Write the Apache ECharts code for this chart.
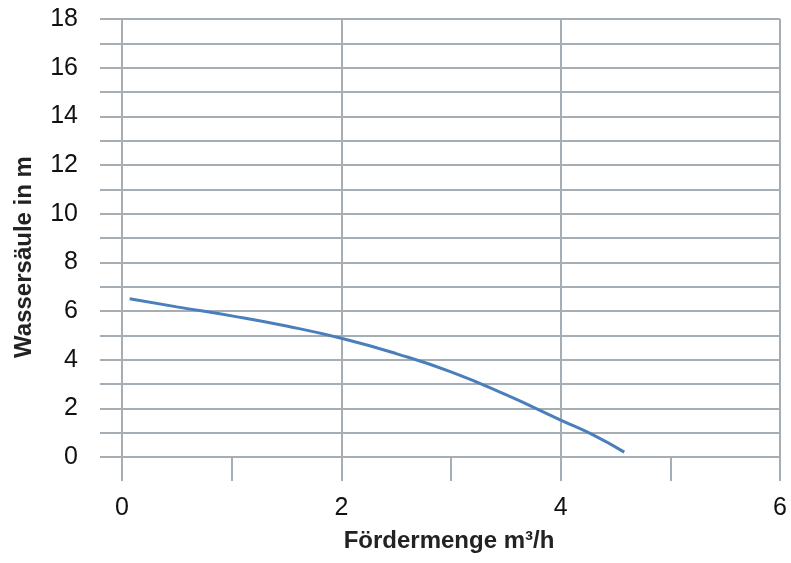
<!DOCTYPE html>
<html>
<head>
<meta charset="utf-8">
<script src="https://cdn.jsdelivr.net/npm/echarts@6/dist/echarts.min.js"></script>
<style>html,body{margin:0;padding:0;background:#fff;}#c{width:791px;height:563px;}</style>
</head>
<body>
<div id="c"></div>
<script>
const flowValues = [0.07, 0.5, 1.0, 1.5, 2.0, 2.5, 3.0, 3.5, 4.0, 4.3, 4.58];
const headValues = [6.5, 6.17, 5.8, 5.38, 4.88, 4.25, 3.5, 2.56, 1.52, 0.9, 0.2];
const xTicks = [0, 2, 4, 6];
const yTicks = [0, 2, 4, 6, 8, 10, 12, 14, 16, 18];

const gridColor = '#a6aeb5';
const font = '"Liberation Sans", Arial, sans-serif';

const chart = echarts.init(document.getElementById('c'));
chart.setOption({
  animation: false,
  grid: { left: 122, right: 11, top: 19, bottom: 106 },
  xAxis: {
    type: 'value', min: xTicks[0], max: xTicks[xTicks.length - 1], interval: 2,
    name: 'Fördermenge m³/h', nameLocation: 'middle', nameGap: 72,
    nameTextStyle: { fontFamily: font, fontWeight: 'bold', fontSize: 24, color: '#222', padding: [0, 4, 0, 0] },
    axisLine: { show: false },
    axisTick: { show: true, length: 24, lineStyle: { color: gridColor, width: 2 } },
    minorTick: { show: true, splitNumber: 2, length: 24, lineStyle: { color: gridColor, width: 2 } },
    axisLabel: { fontFamily: font, fontSize: 25, color: '#111', margin: 39 },
    splitLine: { show: true, lineStyle: { color: gridColor, width: 2 } }
  },
  yAxis: {
    type: 'value', min: yTicks[0], max: yTicks[yTicks.length - 1], interval: 2,
    name: 'Wassersäule in m', nameLocation: 'middle', nameGap: 86,
    nameTextStyle: { fontFamily: font, fontWeight: 'bold', fontSize: 24, color: '#222', padding: [0, 38, 0, 0] },
    axisLine: { show: false },
    axisTick: { show: true, length: 22, lineStyle: { color: gridColor, width: 2 } },
    minorTick: { show: true, splitNumber: 2, length: 22, lineStyle: { color: gridColor, width: 2 } },
    axisLabel: { fontFamily: font, fontSize: 25, color: '#111', margin: 44 },
    splitLine: { show: true, lineStyle: { color: gridColor, width: 2 } },
    minorSplitLine: { show: true, lineStyle: { color: gridColor, width: 2 } }
  },
  series: [{
    type: 'line',
    data: flowValues.map((x, i) => [x, headValues[i]]),
    smooth: true,
    showSymbol: false,
    lineStyle: { color: '#4a7fbb', width: 3 }
  }]
});
</script>
</body>
</html>
